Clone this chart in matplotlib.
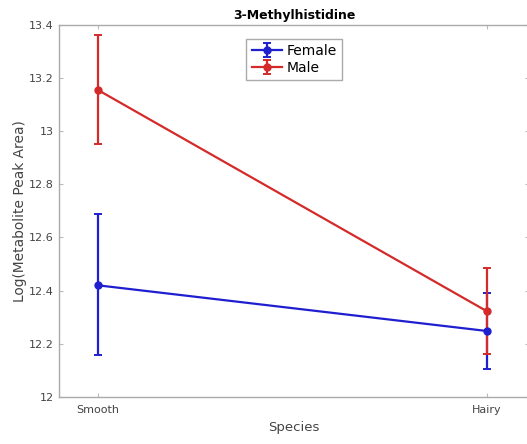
import matplotlib
matplotlib.use("Agg")
import matplotlib.pyplot as plt

species = ["Smooth", "Hairy"]
female_mean = [12.42, 12.248]
female_lo = [12.158, 12.105]
female_hi = [12.688, 12.391]
male_mean = [13.155, 12.322]
male_lo = [12.952, 12.162]
male_hi = [13.362, 12.484]

BLUE = "#1f1fd0"
RED = "#d42a2a"
GRAY = "#444444"

fig = plt.figure(figsize=(5.27, 4.44), dpi=100)
ax = fig.add_axes([0.112, 0.106, 0.892, 0.838])

xs = [1, 2]
for mean, lo, hi, color, label in [
    (female_mean, female_lo, female_hi, BLUE, "Female"),
    (male_mean, male_lo, male_hi, RED, "Male"),
]:
    err = [[m - l for m, l in zip(mean, lo)], [h - m for m, h in zip(mean, hi)]]
    ax.errorbar(xs, mean, yerr=err, color=color, lw=1.6, marker="o", ms=5,
                capsize=3, capthick=1.4, elinewidth=1.6, label=label)

ax.set_xlim(0.9, 2.108)
ax.set_ylim(12, 13.4)
ax.set_xticks(xs)
ax.set_xticklabels(species)
ax.set_yticks([12, 12.2, 12.4, 12.6, 12.8, 13, 13.2, 13.4])
ax.set_yticklabels(["12", "12.2", "12.4", "12.6", "12.8", "13", "13.2", "13.4"])
ax.tick_params(direction="in", length=3, labelsize=8, colors="#bbbbbb",
               labelcolor=GRAY, right=True, top=True)
ax.tick_params(axis="y", pad=4)
ax.tick_params(axis="x", pad=6)
for s in ax.spines.values():
    s.set_color("#aaaaaa")
    s.set_linewidth(1.0)

ax.set_xlabel("Species", fontsize=9.5, color=GRAY)
ax.set_ylabel("Log(Metabolite Peak Area)", fontsize=9.9, color=GRAY, labelpad=1)
ax.set_title("3-Methylhistidine", fontsize=9, fontweight="bold", pad=4)

leg = ax.legend(loc="upper center", bbox_to_anchor=(0.5, 0.982), fontsize=10,
                fancybox=False, framealpha=1, edgecolor="#aaaaaa",
                borderpad=0.4, handlelength=2.2, handletextpad=0.3, labelspacing=0.2)

fig.savefig("out.png", dpi=100)
